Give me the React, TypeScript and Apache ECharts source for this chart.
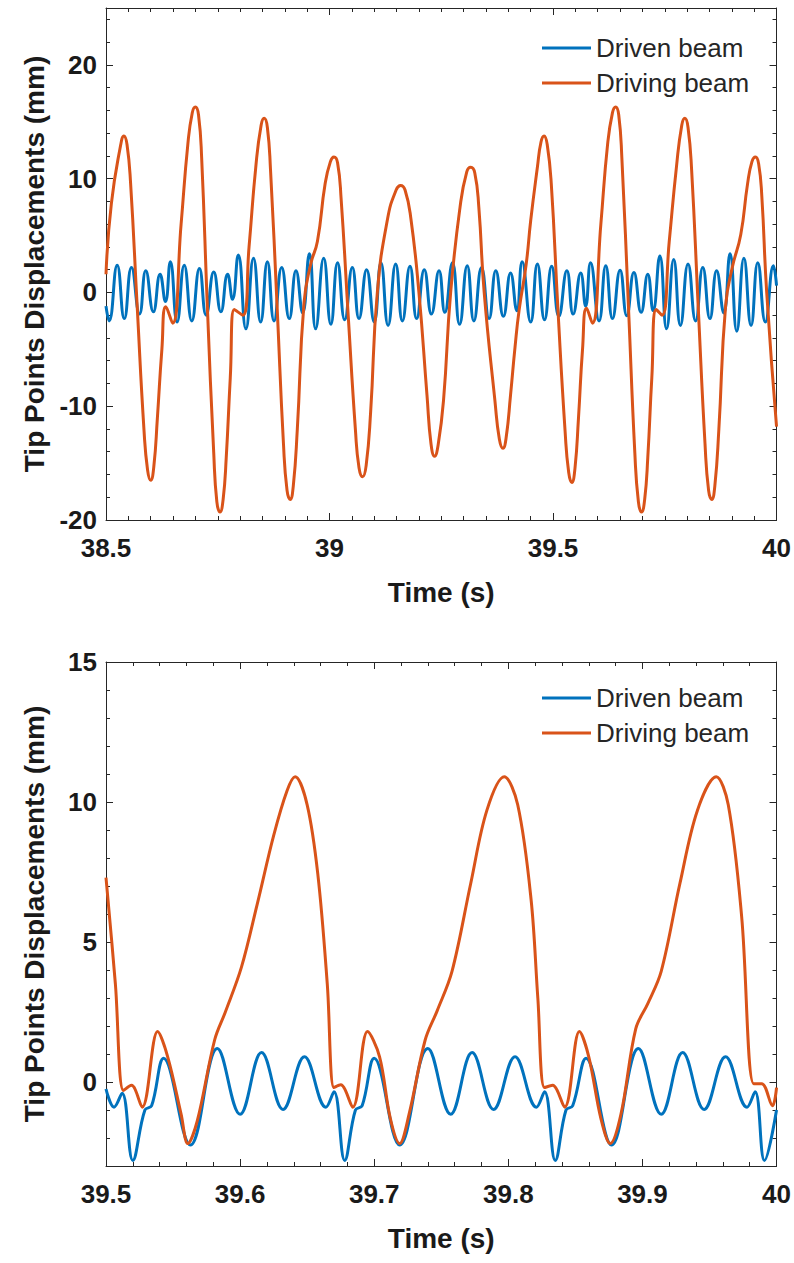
import React, { useEffect, useRef } from "react";
import * as echarts from "echarts";

// ---------- Top panel (38.5 – 40 s) ----------
const drivenTopT = [
  38.5, 38.507, 38.525, 38.541, 38.557, 38.575, 38.589, 38.606, 38.621, 38.633,
  38.644, 38.659, 38.675, 38.692, 38.709, 38.724, 38.741, 38.757, 38.772, 38.783,
  38.796, 38.813, 38.83, 38.846, 38.861, 38.876, 38.893, 38.91, 38.925, 38.94,
  38.955, 38.969, 38.987, 39.003, 39.018, 39.034, 39.051, 39.066, 39.083, 39.1,
  39.115, 39.131, 39.148, 39.163, 39.18, 39.195, 39.212, 39.228, 39.245, 39.258,
  39.275, 39.291, 39.308, 39.323, 39.34, 39.357, 39.372, 39.389, 39.405, 39.419,
  39.431, 39.45, 39.465, 39.481, 39.497, 39.513, 39.531, 39.545, 39.562, 39.573,
  39.584, 39.603, 39.618, 39.633, 39.65, 39.665, 39.681, 39.697, 39.712, 39.724,
  39.739, 39.754, 39.77, 39.785, 39.802, 39.819, 39.835, 39.851, 39.866, 39.882,
  39.896, 39.911, 39.927, 39.943, 39.958, 39.975, 39.993, 40.0,
];
const drivenTopY = [
  -1.2, -2.5, 2.4, -2.3, 2.2, -1.9, 1.9, -1.7, 1.6, -0.8,
  2.7, -2.6, 2.4, -2.5, 2.1, -2.0, 1.8, -1.7, 1.6, -0.6,
  3.3, -3.2, 3.0, -2.6, 2.7, -2.5, 2.2, -2.3, 1.9, -1.8,
  3.4, -3.2, 3.0, -2.8, 2.6, -2.4, 2.2, -2.3, 2.0, -2.6,
  2.6, -2.9, 2.5, -2.5, 2.3, -2.3, 2.0, -1.9, 1.9, -1.75,
  2.6, -2.8, 2.35, -2.5, 2.2, -2.3, 1.9, -2.1, 1.7, -1.6,
  2.7, -2.6, 2.5, -2.4, 2.3, -2.1, 1.9, -1.9, 1.7, -1.2,
  2.6, -2.5, 2.35, -2.3, 1.95, -2.05, 1.75, -1.75, 1.6, -1.6,
  3.2, -3.2, 2.9, -2.9, 2.5, -2.5, 2.2, -2.3, 1.9, -1.8,
  3.4, -3.4, 3.0, -2.9, 2.6, -2.6, 2.35, 0.6,
];
const drivingTopT = [
  38.5, 38.512, 38.533, 38.54, 38.547, 38.555, 38.57, 38.585, 38.593, 38.6, 38.607, 38.615, 38.625,
  38.634, 38.649, 38.668, 38.683, 38.693, 38.7, 38.707, 38.714, 38.727, 38.741, 38.748, 38.755, 38.762, 38.769,
  38.778, 38.787, 38.806, 38.82, 38.835, 38.847, 38.854, 38.861, 38.868, 38.883, 38.897, 38.905, 38.912,
  38.919, 38.928, 38.943, 38.958, 38.973, 38.99, 39.002, 39.01, 39.018, 39.026, 39.042, 39.058, 39.066,
  39.074, 39.082, 39.092, 39.107, 39.13, 39.149, 39.159, 39.169, 39.182, 39.2, 39.218, 39.227, 39.235, 39.243,
  39.255, 39.271, 39.292, 39.307, 39.316, 39.325, 39.334, 39.346, 39.37, 39.38, 39.388, 39.395, 39.405, 39.415,
  39.424, 39.44, 39.45, 39.465, 39.473, 39.48, 39.487, 39.496, 39.511, 39.527, 39.535, 39.542, 39.549, 39.557, 39.566,
  39.575, 39.588, 39.607, 39.622, 39.633, 39.64, 39.647, 39.654, 39.669, 39.683, 39.691, 39.698, 39.705, 39.712,
  39.721, 39.731, 39.744, 39.76, 39.776, 39.788, 39.795, 39.802, 39.81, 39.825, 39.84, 39.848, 39.855,
  39.862, 39.871, 39.886, 39.901, 39.92, 39.935, 39.945, 39.953, 39.96, 39.967, 39.978, 40.0,
];
const drivingTopY = [
  1.6, 7.8, 13.0, 13.75, 13.0, 9.6, -1.4, -12.1, -15.6, -16.5, -15.3, -11, -5,
  -1.25, -2.7, 6.0, 13.0, 15.8, 16.3, 15.6, 11.8, -1.5, -14.1, -18.4, -19.3, -18.2, -14.5,
  -7.5, -1.5, -2.0, 4.0, 11.0, 14.7, 15.3, 14.5, 10.8, -1.45, -13.3, -17.4, -18.2,
  -17.0, -12, -0.9, 2.5, 4.5, 9.5, 11.5, 11.9, 11.4, 8.2, -2.15, -12.1, -15.4,
  -16.2, -15.2, -10.5, 0, 6.5, 9.0, 9.4, 9.0, 6.5, 0, -9, -13.3, -14.4, -13.4,
  -9.5, 0, 7.5, 10.6, 11.0, 10.5, 7.5, 0, -9.5, -12.9, -13.7, -12.8, -9.0, -4.8,
  -1.6, 2.5, 6.3, 11, 13.2, 13.75, 13.0, 9.6, -1.5, -12.2, -15.8, -16.7, -15.5, -11, -5,
  -1.4, -2.7, 6.0, 13.0, 15.8, 16.3, 15.6, 11.8, -1.5, -14.1, -18.4, -19.3, -18.2, -14.5,
  -7.5, -1.5, -2.0, 4.5, 11, 14.7, 15.3, 14.5, 10.8, -1.45, -13.3, -17.4, -18.2,
  -17.0, -12, -1.2, 2.2, 5.1, 9.5, 11.5, 11.9, 11.3, 8.5, 0, -11.8,
];

// ---------- Bottom panel (39.5 – 40 s) ----------
const drivenBotT = [
  39.5, 39.506, 39.512, 39.52, 39.529, 39.534, 39.543, 39.563, 39.583, 39.6,
  39.616, 39.632, 39.648, 39.664, 39.67, 39.678, 39.686, 39.691, 39.7, 39.719,
  39.74, 39.757, 39.773, 39.789, 39.805, 39.821, 39.827, 39.835, 39.843, 39.848,
  39.858, 39.877, 39.897, 39.914, 39.93, 39.946, 39.962, 39.978, 39.984, 39.991,
  40.0,
];
const drivenBotY = [
  -0.25, -0.9, -0.4, -2.8, -1.0, -0.85, 0.85, -2.25, 1.2, -1.15,
  1.05, -0.98, 0.9, -0.9, -0.35, -2.8, -1.0, -0.85, 0.85, -2.25,
  1.2, -1.15, 1.05, -0.98, 0.9, -0.9, -0.35, -2.8, -1.0, -0.85,
  0.85, -2.25, 1.2, -1.15, 1.05, -0.98, 0.9, -0.9, -0.35, -2.8,
  -1.0,
];
const drivingBotT = [
  39.5, 39.507, 39.513, 39.519, 39.527, 39.5385, 39.546, 39.556, 39.561, 39.568,
  39.581, 39.589, 39.601, 39.613, 39.625, 39.635, 39.641, 39.65, 39.658, 39.665,
  39.67, 39.675, 39.684, 39.695, 39.704, 39.712, 39.719, 39.726, 39.738, 39.747,
  39.758, 39.772, 39.784, 39.797, 39.807, 39.817, 39.822, 39.827, 39.833, 39.842,
  39.853, 39.86, 39.869, 39.876, 39.884, 39.895, 39.904, 39.914, 39.928, 39.941,
  39.955, 39.964, 39.974, 39.983, 39.989, 39.997, 40.0,
];
const drivingBotY = [
  7.3, 3.5, -0.3, -0.12, -0.9, 1.8, 0.9, -1.15, -2.2, -1.4,
  1.5, 2.5, 4.1, 6.4, 8.8, 10.4, 10.9, 9.9, 7.4, 3.5,
  -0.2, -0.1, -0.9, 1.8, 0.9, -1.3, -2.2, -1.15, 1.5, 2.55,
  3.95, 7.1, 9.7, 10.9, 9.9, 6.5, 3.0, -0.2, -0.12, -0.9,
  1.8, 0.9, -1.3, -2.2, -1.15, 1.9, 2.8, 3.95, 7.1, 9.7,
  10.9, 9.9, 5.9, -0.06, -0.06, -0.85, -0.2,
];

// ---------- Axes / ticks ----------
const topXMajor = [38.5, 39, 39.5, 40];
const topYMajor = [-20, -10, 0, 10, 20];
const botXMajor = [39.5, 39.6, 39.7, 39.8, 39.9, 40];
const botYMajor = [0, 5, 10, 15];

const seriesNames = ["Driven beam", "Driving beam"];
const xTitle = "Time (s)";
const yTitle = "Tip Points Displacements (mm)";

const BLUE = "#0072BD";
const ORANGE = "#D95319";
const AX = "#262626";
const FONT = '"Liberation Sans", Arial, Helvetica, sans-serif';

const zip = (t: number[], y: number[]) => t.map((v, i) => [v, y[i]]);

function makeAxes(
  dim: "x" | "y",
  grid: number,
  min: number,
  max: number,
  majors: number[],
  minorInterval: number,
  name: string
) {
  const base: any = {
    type: "value",
    gridIndex: grid,
    min,
    max,
    splitLine: { show: false },
    animation: false,
  };
  const line = { show: true, onZero: false, lineStyle: { color: AX, width: 1 } };
  const majorTick = { show: true, inside: true, length: 7, customValues: majors, lineStyle: { color: AX, width: 1 } };
  const minorTick = { show: true, inside: true, length: 4, lineStyle: { color: AX, width: 1 } };
  const pos1 = dim === "x" ? "bottom" : "left";
  const pos2 = dim === "x" ? "top" : "right";
  const main = {
    ...base,
    position: pos1,
    axisLine: line,
    axisTick: majorTick,
    axisLabel: {
      show: true,
      customValues: majors,
      margin: dim === "x" ? 15 : 9,
      color: "#1a1a1a",
      fontSize: 26,
      fontWeight: "bold",
      fontFamily: FONT,
    },
    name,
    nameLocation: "middle",
    nameGap: dim === "x" ? 58 : 58,
    nameTextStyle: { color: "#1a1a1a", fontSize: 28, fontWeight: "bold", fontFamily: FONT },
  };
  const minor1 = { ...base, position: pos1, interval: minorInterval, axisLine: { show: false, onZero: false }, axisTick: minorTick, axisLabel: { show: false } };
  const opp = { ...base, position: pos2, axisLine: line, axisTick: majorTick, axisLabel: { show: false } };
  const minor2 = { ...base, position: pos2, interval: minorInterval, axisLine: { show: false, onZero: false }, axisTick: minorTick, axisLabel: { show: false } };
  return [main, minor1, opp, minor2];
}

function lineSeries(name: string, color: string, data: number[][], axisIndex: number, smooth: number) {
  return {
    type: "line",
    name,
    data,
    xAxisIndex: axisIndex,
    yAxisIndex: axisIndex,
    showSymbol: false,
    symbol: "none",
    smooth,
    lineStyle: { color, width: 3 },
    itemStyle: { color },
    emphasis: { disabled: true },
    animation: false,
  };
}

function legendAt(top: number) {
  return {
    data: seriesNames,
    orient: "vertical",
    left: 537,
    top,
    icon: "rect",
    itemWidth: 49,
    itemHeight: 3,
    itemGap: 7,
    selectedMode: false,
    textStyle: { fontSize: 26, color: "#262626", fontFamily: FONT, lineHeight: 28 },
  };
}

export default function App() {
  const ref = useRef<HTMLDivElement>(null);
  useEffect(() => {
    if (!ref.current) return;
    const chart = echarts.init(ref.current, undefined, { renderer: "svg" });
    const option: any = {
      animation: false,
      backgroundColor: "#ffffff",
      grid: [
        { left: 106, top: 8, width: 671, height: 512 },
        { left: 106, top: 662, width: 671, height: 504 },
      ],
      xAxis: [
        ...makeAxes("x", 0, 38.5, 40, topXMajor, 0.05, xTitle),
        ...makeAxes("x", 1, 39.5, 40, botXMajor, 0.02, xTitle),
      ],
      yAxis: [
        ...makeAxes("y", 0, -20, 25, topYMajor, 2, yTitle),
        ...makeAxes("y", 1, -3, 15, botYMajor, 1, yTitle),
      ],
      legend: [legendAt(29), legendAt(679)],
      series: [
        lineSeries(seriesNames[0], BLUE, zip(drivenTopT, drivenTopY), 0, 0.5),
        lineSeries(seriesNames[1], ORANGE, zip(drivingTopT, drivingTopY), 0, 0.5),
        lineSeries(seriesNames[0], BLUE, zip(drivenBotT, drivenBotY), 4, 0.4),
        lineSeries(seriesNames[1], ORANGE, zip(drivingBotT, drivingBotY), 4, 0.35),
      ],
    };
    chart.setOption(option);
    return () => chart.dispose();
  }, []);
  return (
    <div
      ref={ref}
      style={{ position: "absolute", left: 0, top: 0, width: 794, height: 1263, background: "#fff" }}
    />
  );
}
